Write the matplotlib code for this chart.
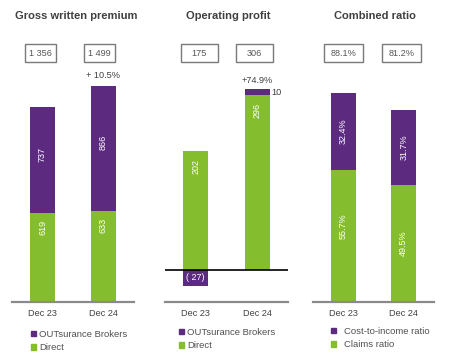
import matplotlib
matplotlib.use("Agg")
import matplotlib.pyplot as plt
from matplotlib.patches import Rectangle, Patch

plt.rcParams['font.family'] = ['Liberation Sans', 'DejaVu Sans']

# ---- data ----
periods = ["Dec 23", "Dec 24"]
gwp_direct = [619, 633]
gwp_brokers = [737, 866]
gwp_growth = "+ 10.5%"
op_direct = [202, 296]
op_brokers = [-27, 10]
op_growth = "+74.9%"
claims_ratio = [55.7, 49.5]
cost_ratio = [32.4, 31.7]
titles = ["Gross written premium", "Operating profit", "Combined ratio"]
legend_labels = [["OUTsurance Brokers", "Direct"],
                 ["OUTsurance Brokers", "Direct"],
                 ["Cost-to-income ratio", "Claims ratio"]]

PURPLE = "#5c2a7f"
GREEN = "#84bd2e"
TXT = "#404040"

W, H = 450, 361
fig = plt.figure(figsize=(W / 100, H / 100), dpi=100)
fig.patch.set_facecolor("white")


def rect(x0, x1, ytop, ybot):
    return [x0 / W, 1 - ybot / H, (x1 - x0) / W, (ybot - ytop) / H]


def fx(x):
    return x / W


def fy(y):
    return 1 - y / H


ytop, ybot = 75, 302
axes_px = [(12, 134), (165, 288), (313, 434)]
ylims = [(0, 227 / 0.144), (-32 / 0.59, (270 - 75) / 0.59), (0, 227 / 2.37)]
bw = 0.41
xs = [0, 1]

axs = []
for (x0, x1), yl in zip(axes_px, ylims):
    ax = fig.add_axes(rect(x0, x1, ytop, ybot))
    ax.set_xlim(-0.5, 1.5)
    ax.set_ylim(*yl)
    for s in ["top", "right", "left"]:
        ax.spines[s].set_visible(False)
    ax.spines["bottom"].set_color("#8a8a8a")
    ax.spines["bottom"].set_linewidth(1.6)
    ax.set_yticks([])
    ax.set_xticks(xs)
    ax.set_xticklabels(periods, fontsize=6.6, color=TXT)
    ax.tick_params(axis="x", length=0, pad=5)
    ax.patch.set_alpha(0)
    axs.append(ax)

lab_kw = dict(rotation=90, color="white", fontsize=6.5, ha="center", va="center")

# Panel 1
ax = axs[0]
ax.bar(xs, gwp_direct, bw, color=GREEN)
ax.bar(xs, gwp_brokers, bw, bottom=gwp_direct, color=PURPLE)
for x, d, b in zip(xs, gwp_direct, gwp_brokers):
    ax.text(x, d - 100, f"{d}", **lab_kw)
    ax.text(x, d + b / 2 + 40, f"{b}", **lab_kw)
ax.text(1, gwp_direct[1] + gwp_brokers[1] + 45, gwp_growth, ha="center", va="bottom",
        fontsize=6.6, color=TXT)

# Panel 2
ax = axs[1]
ax.bar(xs, op_direct, bw, color=GREEN)
op_bottoms = [0 if b < 0 else d for d, b in zip(op_direct, op_brokers)]
ax.bar(xs, op_brokers, bw, bottom=op_bottoms, color=PURPLE)
ax.axhline(0, color="black", lw=1.2)
for x, d, b, bt in zip(xs, op_direct, op_brokers, op_bottoms):
    ax.text(x, d - 26, f"{d}", **lab_kw)
    if b < 0:
        ax.text(x, bt + b / 2, f"( {abs(b)})", color="white",
                fontsize=6.5, ha="center", va="center")
    else:
        ax.text(x + bw / 2 + 0.03, bt + b / 2, f"{b}", color=TXT, fontsize=6.6,
                ha="left", va="center")
ax.text(1, op_direct[1] + op_brokers[1] + 8, op_growth, ha="center", va="bottom",
        fontsize=6.6, color=TXT)

# Panel 3
ax = axs[2]
ax.bar(xs, claims_ratio, bw, color=GREEN)
ax.bar(xs, cost_ratio, bw, bottom=claims_ratio, color=PURPLE)
for x, c, k in zip(xs, claims_ratio, cost_ratio):
    ax.text(x, c / 2 + (4 if x == 0 else 0), f"{c:.1f}%", **lab_kw)
    ax.text(x, c + k / 2, f"{k:.1f}%", **lab_kw)

# Titles
for t, cx in zip(titles, [76, 228, 375]):
    fig.text(fx(cx), fy(16), t, ha="center", va="center", fontsize=8,
             fontweight="bold", color=TXT)

# Total boxes
totals = [
    [f"{a + b:,}".replace(",", " ") for a, b in zip(gwp_direct, gwp_brokers)],
    [f"{a + b}" for a, b in zip(op_direct, op_brokers)],
    [f"{a + b:.1f}%" for a, b in zip(claims_ratio, cost_ratio)],
]
box_centers = [[40, 99.5], [199.5, 254.5], [343.5, 401.5]]
box_w = [31, 37, 39]
for vals, cents, bwid in zip(totals, box_centers, box_w):
    for v, cx in zip(vals, cents):
        fig.patches.append(Rectangle((fx(cx - bwid / 2), fy(62)), bwid / W, 18 / H,
                                     transform=fig.transFigure, facecolor="white",
                                     edgecolor="#7a7a7a", lw=1.0))
        fig.text(fx(cx), fy(53), v, ha="center", va="center", fontsize=6.6, color="#555555")

# Legends
leg_pos = [(31, 330), (179, 328), (331, 327)]
pads = [0.35, 0.35, 0.9]
for labels, (lx, ly), tp in zip(legend_labels, leg_pos, pads):
    handles = [Patch(color=PURPLE, label=labels[0]), Patch(color=GREEN, label=labels[1])]
    fig.legend(handles=handles, loc="upper left", bbox_to_anchor=(fx(lx), fy(ly)),
               frameon=False, fontsize=6.8, handlelength=0.5, handleheight=0.5,
               handletextpad=tp, labelspacing=0.45, borderpad=0, borderaxespad=0,
               labelcolor="#505050")

fig.savefig("out.png", dpi=100, facecolor="white")
